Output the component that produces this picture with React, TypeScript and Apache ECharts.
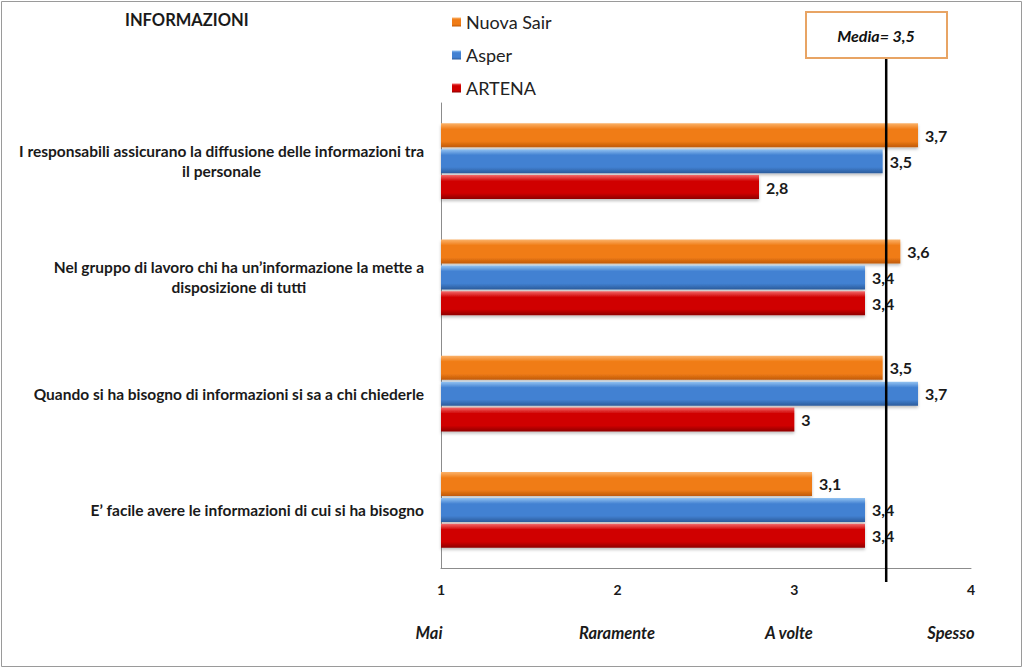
import React, { useEffect, useRef } from "react";
import * as echarts from "echarts";

const CATEGORIES = [
  "I responsabili assicurano la diffusione delle informazioni tra\nil personale",
  "Nel gruppo di lavoro chi ha un’informazione la mette a\ndisposizione di tutti",
  "Quando si ha bisogno di informazioni si sa a chi chiederle",
  "E’ facile avere le informazioni di cui si ha bisogno",
];
const SERIES_NAMES = ["Nuova Sair", "Asper", "ARTENA"];
const NUOVA_SAIR = [3.7, 3.6, 3.5, 3.1];
const ASPER = [3.5, 3.4, 3.7, 3.4];
const ARTENA = [2.8, 3.4, 3.0, 3.4];
const X_TICKS = [1, 2, 3, 4];
const SCALE_LABELS = ["Mai", "Raramente", "A volte", "Spesso"];
const MEDIA = 3.5;
const MEDIA_LINE_AT = 3.52;

const FONT = "Lato, 'Open Sans', sans-serif";

const grad = (top: string, mid: string, bot: string) =>
  new echarts.graphic.LinearGradient(0, 0, 0, 1, [
    { offset: 0, color: top },
    { offset: 0.25, color: mid },
    { offset: 0.75, color: mid },
    { offset: 1, color: bot },
  ]);

export default function App() {
  const ref = useRef<HTMLDivElement>(null);
  useEffect(() => {
    document.body.style.margin = "0";
    const chart = echarts.init(ref.current!, undefined, { renderer: "svg" });
    const colors = [
      grad("#fbb36b", "#f07c16", "#c05a08"),
      grad("#94c4f2", "#4281d2", "#2c5c9c"),
      grad("#f26a6a", "#d00000", "#8e0000"),
    ];
    const flat = ["#f07c16", "#4281d2", "#d00000"];
    const datas = [NUOVA_SAIR, ASPER, ARTENA];
    const fmt = (v: number) => String(v).replace(".", ",");
    chart.setOption({
      animation: false,
      backgroundColor: "#ffffff",
      color: flat,
      title: {
        text: "INFORMAZIONI",
        left: 125,
        top: 11,
        padding: 0,
        textStyle: { fontFamily: FONT, fontWeight: "bold", fontSize: 16.5, color: "#1a1a1a" },
      },
      legend: {
        orient: "vertical",
        left: 452,
        top: 13,
        padding: 0,
        itemGap: 15,
        itemWidth: 9,
        itemHeight: 9,
        icon: "rect",
        data: SERIES_NAMES,
        textStyle: { fontFamily: FONT, fontSize: 18, color: "#222" },
      },
      grid: { left: 441, right: 53, top: 103, bottom: 101, containLabel: false },
      xAxis: {
        type: "value",
        min: X_TICKS[0],
        max: X_TICKS[X_TICKS.length - 1],
        interval: 1,
        axisLine: { show: true, lineStyle: { color: "#8c8c8c", width: 1 } },
        axisTick: { show: false },
        splitLine: { show: false },
        axisLabel: {
          margin: 14,
          fontFamily: FONT,
          fontWeight: "bold",
          fontSize: 14,
          color: "#1a1a1a",
        },
      },
      yAxis: {
        type: "category",
        inverse: true,
        data: CATEGORIES,
        axisLine: { show: true, lineStyle: { color: "#8c8c8c", width: 1 } },
        axisTick: { show: false },
        axisLabel: {
          margin: 17,
          formatter: (v: string) =>
            v
              .split("\n")
              .map((l) => `{a|${l}}`)
              .join("\n"),
          rich: {
            a: {
              align: "center",
              fontFamily: FONT,
              fontWeight: "bold",
              fontSize: 15.5,
              color: "#1a1a1a",
              lineHeight: 20,
            },
          },
        },
      },
      series: SERIES_NAMES.map((name, i) => ({
        name,
        type: "bar",
        data: datas[i],
        barWidth: 24,
        barGap: "8%",
        itemStyle: {
          color: colors[i],
          shadowColor: "rgba(0,0,0,0.25)",
          shadowBlur: 3,
          shadowOffsetY: 2,
        },
        label: {
          show: true,
          position: "right",
          distance: 7,
          formatter: (p: any) => fmt(p.value),
          fontFamily: FONT,
          fontWeight: "bold",
          fontSize: 16,
          color: "#1a1a1a",
        },
      })),
    });
    const lx = chart.convertToPixel({ xAxisIndex: 0 }, MEDIA_LINE_AT) as number;
    const scaleX = [429, 617, 789, 951];
    chart.setOption({
      graphic: [
        {
          type: "rect",
          shape: { x: 1.5, y: 1.5, width: 1020, height: 665 },
          style: { fill: "none", stroke: "#9a9a9a", lineWidth: 1 },
          silent: true,
        },
        {
          type: "line",
          shape: { x1: lx, y1: 58, x2: lx, y2: 582 },
          style: { stroke: "#000", lineWidth: 2.5 },
          z: 100,
        },
        {
          type: "rect",
          shape: { x: 806, y: 12, width: 141, height: 46 },
          style: { fill: "#fff", stroke: "#e8a464", lineWidth: 2 },
          z: 100,
        },
        {
          type: "text",
          x: 876,
          y: 35,
          style: {
            text: "Media= " + fmt(MEDIA),
            align: "center",
            verticalAlign: "middle",
            font: `italic bold 16px ${FONT}`,
            fill: "#111",
          },
          z: 101,
        },
        ...SCALE_LABELS.map((t, i) => ({
          type: "text",
          x: scaleX[i],
          y: 633,
          style: {
            text: t,
            align: "center",
            verticalAlign: "middle",
            font: `italic bold 16.5px ${FONT}`,
            fill: "#1a1a1a",
          },
        })),
      ],
    });
    return () => chart.dispose();
  }, []);
  return <div ref={ref} style={{ width: 1024, height: 669 }} />;
}
